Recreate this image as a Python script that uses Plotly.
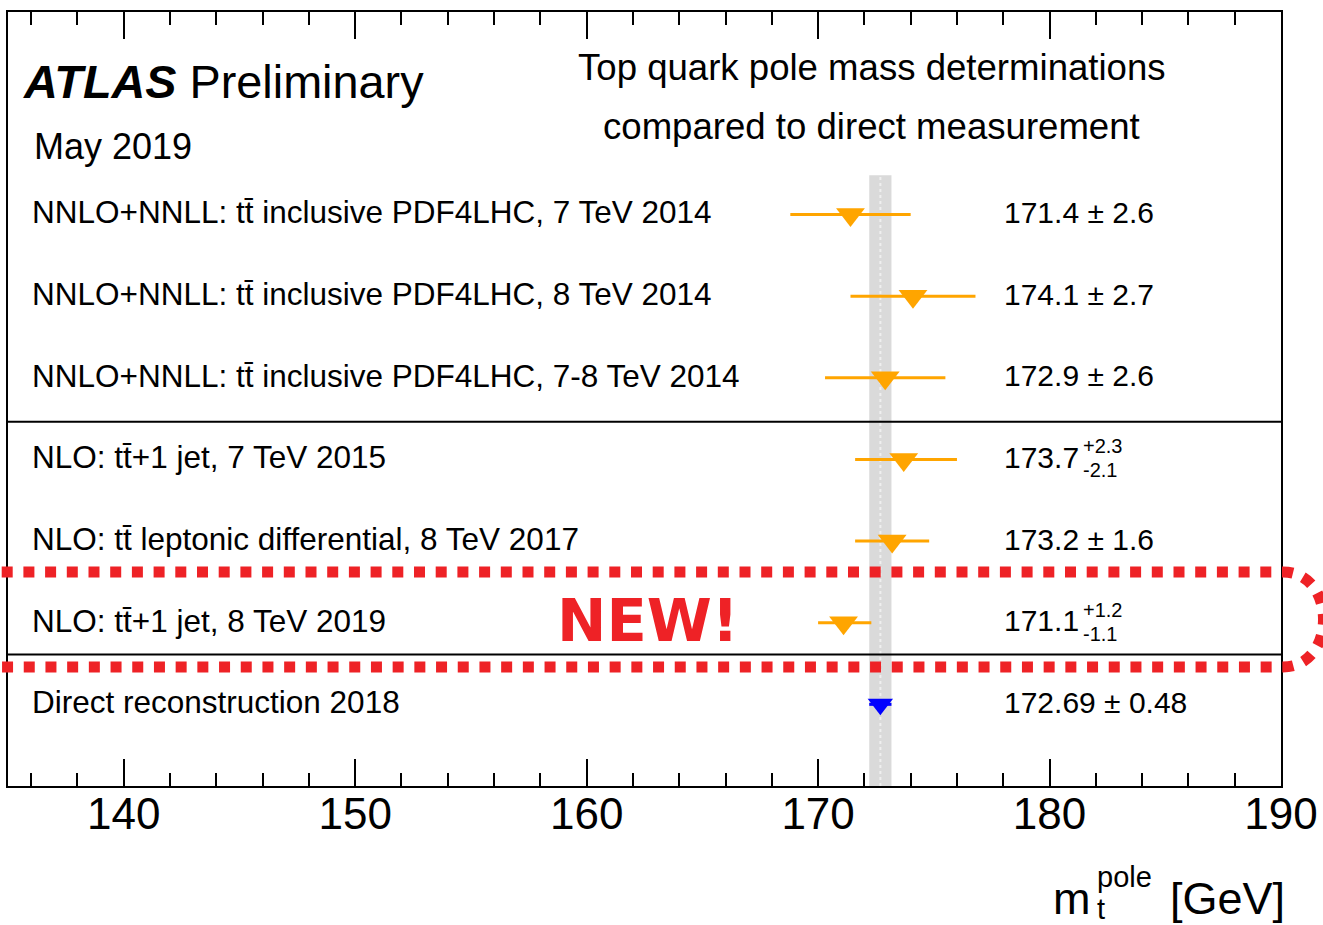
import plotly.graph_objects as go

# ---- data -------------------------------------------------------------
labels = [
    "NNLO+NNLL: tt\u0304 inclusive PDF4LHC, 7 TeV 2014",
    "NNLO+NNLL: tt\u0304 inclusive PDF4LHC, 8 TeV 2014",
    "NNLO+NNLL: tt\u0304 inclusive PDF4LHC, 7-8 TeV 2014",
    "NLO: tt\u0304+1 jet, 7 TeV 2015",
    "NLO: tt\u0304 leptonic differential, 8 TeV 2017",
    "NLO: tt\u0304+1 jet, 8 TeV 2019",
    "Direct reconstruction 2018",
]
mass = [171.4, 174.1, 172.9, 173.7, 173.2, 171.1, 172.69]
err_up = [2.6, 2.7, 2.6, 2.3, 1.6, 1.2, 0.48]
err_dn = [2.6, 2.7, 2.6, 2.1, 1.6, 1.1, 0.48]
rows = [7, 6, 5, 4, 3, 2, 1]
x_ticks = [140, 150, 160, 170, 180, 190]

W, H = 1323, 925
ML, MR, MT, MB = 8, 42, 12, 139
PW, PH = W - ML - MR, H - MT - MB

FONT = "Liberation Sans, Arial, Helvetica, sans-serif"
ORANGE = "#FFA500"
BLUE = "#0000FF"
RED = "#EE2226"


def px_x(p):
    return (p - ML) / PW


def px_y(p):
    return (H - MB - p) / PH


def text_width(s, size):
    w = {".": 0.278, "+": 0.584, "-": 0.333, " ": 0.278, "\u00b1": 0.584}
    return sum(w.get(c, 0.556) for c in s) * size


fig = go.Figure()

direct_val, direct_err = mass[-1], err_up[-1]

# band of the direct reconstruction result
fig.add_shape(type="rect", xref="x", yref="y",
              x0=direct_val - direct_err, x1=direct_val + direct_err,
              y0=0, y1=7.48, fillcolor="#dadada", line_width=0, layer="below")
fig.add_shape(type="line", xref="x", yref="y",
              x0=direct_val, x1=direct_val, y0=0, y1=7.48,
              line=dict(color="#efefef", width=2, dash="dot"), layer="below")

# pole-mass determinations
fig.add_trace(go.Scatter(
    x=mass[:-1], y=rows[:-1], mode="markers",
    marker=dict(symbol="triangle-down", size=25, color=ORANGE),
    error_x=dict(type="data", symmetric=False, array=err_up[:-1],
                 arrayminus=err_dn[:-1], color=ORANGE, thickness=3, width=0),
    showlegend=False, hoverinfo="skip"))

# direct measurement
fig.add_trace(go.Scatter(
    x=mass[-1:], y=rows[-1:], mode="markers",
    marker=dict(symbol="triangle-down", size=22, color=BLUE),
    error_x=dict(type="data", symmetric=False, array=err_up[-1:],
                 arrayminus=err_dn[-1:], color=BLUE, thickness=3, width=0),
    showlegend=False, hoverinfo="skip"))

# separators between groups
for ysep in (4.46, 1.61):
    fig.add_shape(type="line", xref="paper", yref="y", x0=0, x1=1,
                  y0=ysep, y1=ysep, line=dict(color="black", width=2))

ann = []
LAB_SIZE = 31.5
VAL_SIZE = 30
SMALL = 20
for lab, m, eu, ed, r in zip(labels, mass, err_up, err_dn, rows):
    ann.append(dict(x=px_x(30), y=r, xref="paper", yref="y", text=lab,
                    xanchor="left", yanchor="middle", showarrow=False,
                    yshift=2, font=dict(size=LAB_SIZE)))
    if abs(eu - ed) < 1e-9:
        ann.append(dict(x=px_x(1002), y=r, xref="paper", yref="y",
                        text=f"{m:g} \u00b1 {eu:g}", xanchor="left",
                        yanchor="middle", showarrow=False, yshift=2,
                        font=dict(size=VAL_SIZE)))
    else:
        main = f"{m:g}"
        ann.append(dict(x=px_x(1002), y=r, xref="paper", yref="y",
                        text=main, xanchor="left", yanchor="middle",
                        showarrow=False, yshift=2, font=dict(size=VAL_SIZE)))
        dx = text_width(main, VAL_SIZE) + 5
        ann.append(dict(x=px_x(1002), y=r, xref="paper", yref="y",
                        text=f"+{eu:g}", xanchor="left", yanchor="middle",
                        showarrow=False, xshift=dx, yshift=13, borderpad=0,
                        font=dict(size=SMALL)))
        ann.append(dict(x=px_x(1002), y=r, xref="paper", yref="y",
                        text=f"-{ed:g}", xanchor="left", yanchor="middle",
                        showarrow=False, xshift=dx, yshift=-11, borderpad=0,
                        font=dict(size=SMALL)))

# header texts
ann += [
    dict(x=px_x(21), y=px_y(82), xref="paper", yref="paper",
         text="<b><i>ATLAS</i></b> Preliminary", xanchor="left",
         yanchor="middle", showarrow=False, font=dict(size=46.8)),
    dict(x=px_x(32), y=px_y(147), xref="paper", yref="paper",
         text="May 2019", xanchor="left", yanchor="middle",
         showarrow=False, font=dict(size=36)),
    dict(x=px_x(872), y=px_y(68), xref="paper", yref="paper",
         text="Top quark pole mass determinations", xanchor="center",
         yanchor="middle", showarrow=False, font=dict(size=36.6)),
    dict(x=px_x(872), y=px_y(127), xref="paper", yref="paper",
         text="compared to direct measurement", xanchor="center",
         yanchor="middle", showarrow=False, font=dict(size=36.6)),
    dict(x=px_x(648), y=px_y(620), xref="paper", yref="paper",
         text="<b>NEW!</b>", xanchor="center", yanchor="middle",
         showarrow=False,
         font=dict(size=59, color=RED, family="DejaVu Sans")),
    # axis title m_t^pole [GeV]
    dict(x=px_x(1051), y=px_y(898), xref="paper", yref="paper",
         text="m", xanchor="left", yanchor="middle", showarrow=False,
         font=dict(size=45)),
    dict(x=px_x(1096), y=px_y(877), xref="paper", yref="paper",
         text="pole", xanchor="left", yanchor="middle", showarrow=False,
         borderpad=0, font=dict(size=29)),
    dict(x=px_x(1096), y=px_y(909), xref="paper", yref="paper",
         text="t", xanchor="left", yanchor="middle", showarrow=False,
         borderpad=0, font=dict(size=29)),
    dict(x=px_x(1287), y=px_y(898), xref="paper", yref="paper",
         text="[GeV]", xanchor="right", yanchor="middle", showarrow=False,
         font=dict(size=45)),
]

# highlight around the newest result
path = (f"M {px_x(-20)},{px_y(572)} L {px_x(1283)},{px_y(572)} "
        f"C {px_x(1337)},{px_y(572)} {px_x(1337)},{px_y(667)} {px_x(1283)},{px_y(667)} "
        f"L {px_x(-20)},{px_y(667)}")
fig.add_shape(type="path", xref="paper", yref="paper", path=path,
              line=dict(color=RED, width=11, dash="11px,10.7px"), layer="above")

fig.update_layout(
    width=W, height=H,
    margin=dict(l=ML, r=MR, t=MT, b=MB, autoexpand=False),
    paper_bgcolor="white", plot_bgcolor="white",
    font=dict(family=FONT, color="black"),
    annotations=ann,
    xaxis=dict(range=[135, 190], tickvals=x_ticks,
               ticktext=[str(v) for v in x_ticks],
               ticks="inside", ticklen=27, tickwidth=2, tickcolor="black",
               ticklabelstandoff=-12, automargin=False,
               minor=dict(dtick=2, ticks="inside", ticklen=13, tickwidth=2,
                          tickcolor="black", showgrid=False),
               showline=True, linewidth=2, linecolor="black", mirror="ticks",
               showgrid=False, zeroline=False,
               tickfont=dict(size=44, family=FONT)),
    yaxis=dict(range=[0, 9.48], showticklabels=False, ticks="",
               automargin=False,
               showline=True, linewidth=2, linecolor="black", mirror=True,
               showgrid=False, zeroline=False),
)

fig.write_html("out.html")
